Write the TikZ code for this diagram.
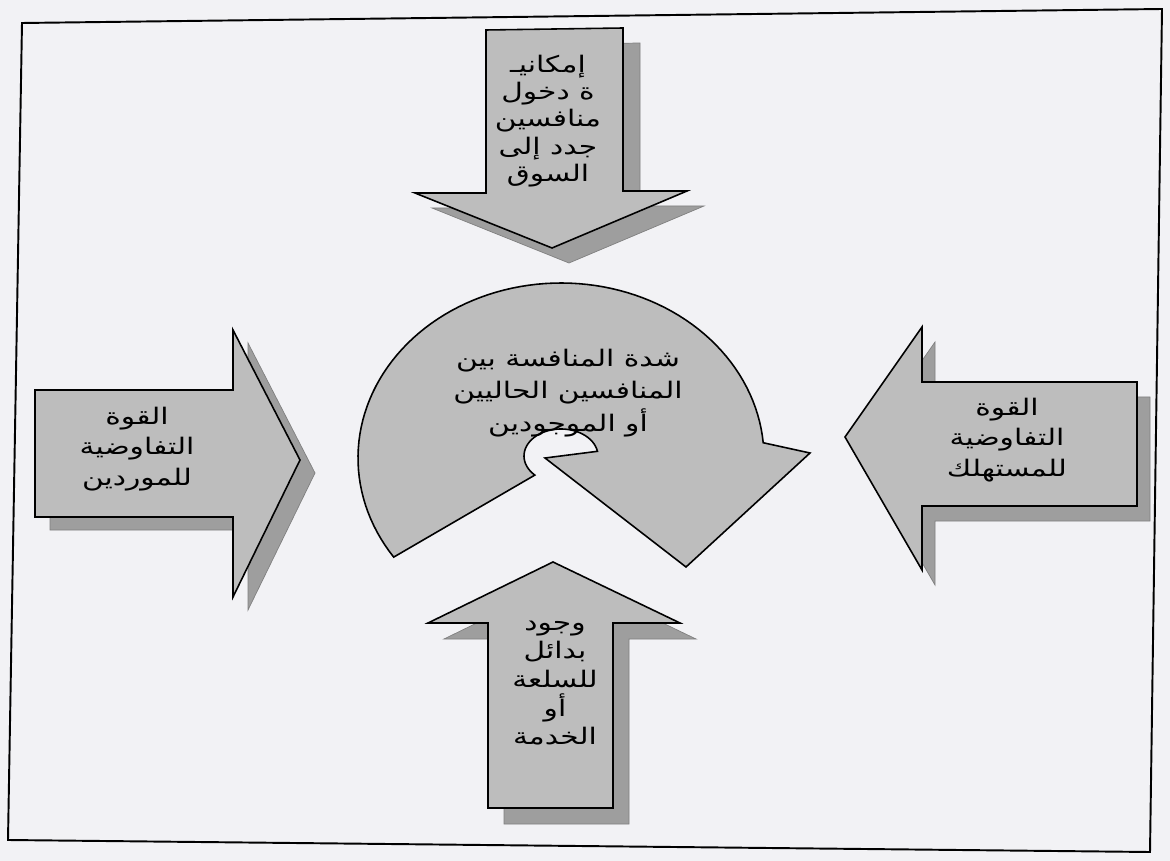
\documentclass[tikz,border=0pt]{standalone}
\usepackage{fontspec}
\newfontfamily\arabicfont[Script=Arabic,FakeStretch=1.3]{DejaVu Sans}
\TeXXeTstate=1
\newcommand{\artext}[1]{\beginR #1\endR}
\definecolor{paper}{rgb}{0.95,0.95,0.96}
\definecolor{frontgray}{rgb}{0.74,0.74,0.74}
\definecolor{shadowgray}{rgb}{0.62,0.62,0.62}

\begin{document}
\begin{tikzpicture}[x=0.02cm, y=-0.02cm,
    front/.style={fill=frontgray, draw=black, line width=0.9pt},
    shadow/.style={fill=shadowgray, draw=black!50, line width=0.4pt},
    label/.style={font=\arabicfont\fontsize{13}{17.5}\selectfont, align=center, inner sep=0pt}]
  \fill[paper] (0,0) rectangle (1170,861);
  \useasboundingbox (0,0) rectangle (1170,861);
  \draw[line width=1.1pt] (22,23) -- (1162,9) -- (1150,852) -- (8,840) -- cycle;

  % new entrants (pointing down)
  \draw[shadow, shift={(17,15)}] (486,30) -- (623,28) -- (623,191) -- (687,191) -- (552,248) -- (415,193) -- (486,193) -- cycle;
  \draw[front] (486,30) -- (623,28) -- (623,191) -- (687,191) -- (552,248) -- (415,193) -- (486,193) -- cycle;
  \node[label, font=\arabicfont\fontsize{13}{15.5}\selectfont] (entrants) at (548,121)
    {\artext{إمكانيـ}\\ \artext{ة دخول}\\ \artext{منافسين}\\ \artext{جدد إلى}\\ \artext{السوق}};

  % substitutes (pointing up)
  \draw[shadow, shift={(16,16)}] (553,562) -- (680,623) -- (613,623) -- (613,808) -- (488,808) -- (488,623) -- (428,623) -- cycle;
  \draw[front] (553,562) -- (680,623) -- (613,623) -- (613,808) -- (488,808) -- (488,623) -- (428,623) -- cycle;
  \node[label, font=\arabicfont\fontsize{13}{16.3}\selectfont] (substitutes) at (555,683)
    {\artext{وجود}\\ \artext{بدائل}\\ \artext{للسلعة}\\ \artext{أو}\\ \artext{الخدمة}};

  % suppliers (pointing right)
  \draw[shadow, shift={(15,13)}] (35,390) -- (233,390) -- (233,330) -- (300,460) -- (233,597) -- (233,517) -- (35,517) -- cycle;
  \draw[front] (35,390) -- (233,390) -- (233,330) -- (300,460) -- (233,597) -- (233,517) -- (35,517) -- cycle;
  \node[label] (suppliers) at (137,449)
    {\artext{القوة}\\ \artext{التفاوضية}\\ \artext{للموردين}};

  % buyers (pointing left)
  \draw[shadow, shift={(13,15)}] (1137,382) -- (922,382) -- (922,327) -- (845,437) -- (922,570) -- (922,506) -- (1137,506) -- cycle;
  \draw[front] (1137,382) -- (922,382) -- (922,327) -- (845,437) -- (922,570) -- (922,506) -- (1137,506) -- cycle;
  \node[label] (buyers) at (1007,440)
    {\artext{القوة}\\ \artext{التفاوضية}\\ \artext{للمستهلك}};

  % rivalry (circular arrow)
  \draw[front] plot[domain=-5:-214.5, samples=90] ({561+203*cos(\x)}, {458+175*sin(\x)})
    -- plot[domain=135:350, samples=40] ({561+37*cos(\x)}, {456+27*sin(\x)})
    -- (545,458) -- (686,567) -- (810,453) -- cycle;
  \node[label, font=\arabicfont\fontsize{13}{18.7}\selectfont] (rivalry) at (568,393)
    {\artext{شدة المنافسة بين}\\ \artext{المنافسين الحاليين}\\ \artext{أو الموجودين}};
\end{tikzpicture}
\end{document}
